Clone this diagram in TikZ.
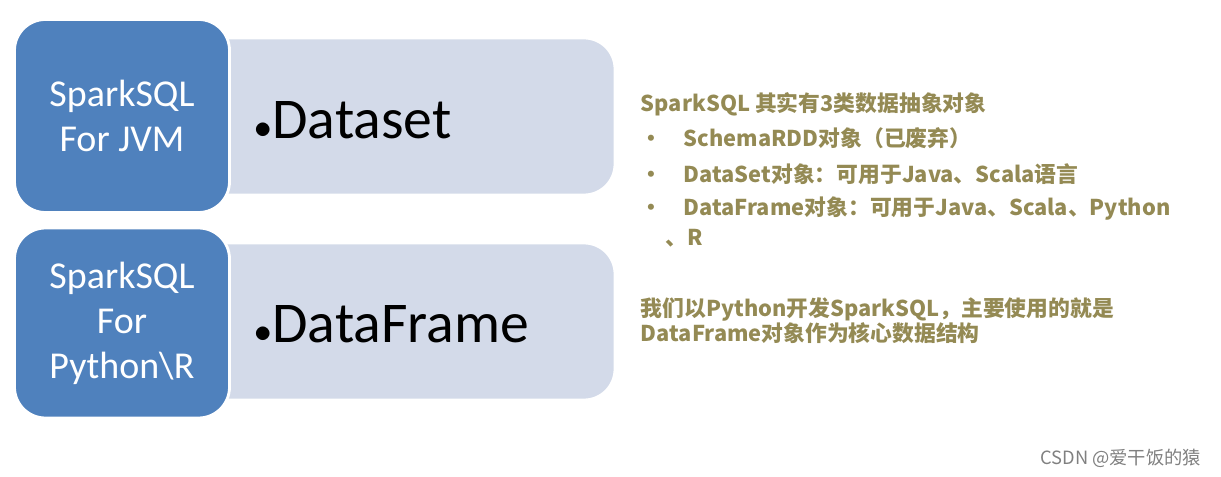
\documentclass[tikz,border=0pt]{standalone}
\usepackage{fontspec}
\setmainfont{Carlito}
\newfontfamily\cjk{Noto Sans CJK SC}
\usetikzlibrary{positioning}
\definecolor{boxblue}{HTML}{4F81BD}
\definecolor{boxlight}{HTML}{D3DAE9}
\definecolor{noteolive}{HTML}{948A54}
\tikzset{
  side/.style={draw=white,line width=2pt,fill=boxblue,rounded corners=22pt,text=white,align=center,font=\fontsize{27}{32}\selectfont},
  panel/.style={draw=white,line width=2pt,fill=boxlight,rounded corners=22pt},
  item/.style={font=\fontsize{41}{48}\selectfont,anchor=west},
  note/.style={text=noteolive,font=\cjk\bfseries\fontsize{15.5}{18}\selectfont,anchor=west}
}
\begin{document}
\begin{tikzpicture}[x=0.025cm,y=-0.025cm]
    \useasboundingbox (0,0) rectangle (1221,477);
    % upper row
    \draw[panel] (190,38) rectangle (615,195);
    \node[side,minimum width=215*0.025cm,minimum height=193*0.025cm] at (122,116) (jvm) {SparkSQL\\For JVM};
    \node[item] at (250,120) (ds) {$\bullet$Dataset};
    % lower row
    \draw[panel] (190,243) rectangle (615,400);
    \node[side,minimum width=215*0.025cm,minimum height=190*0.025cm] at (122,323) (py) {SparkSQL\\For\\Python\textbackslash R};
    \node[item] at (250,324) (df) {$\bullet$DataFrame};
    % notes
    \node[note] at (636,104) (n0) {SparkSQL 其实有3类数据抽象对象};
    \node[note] at (636,138) (n1) {•\hspace{15pt}SchemaRDD对象（已废弃）};
    \node[note] at (636,174) (n2) {•\hspace{15pt}DataSet对象：可用于Java、Scala语言};
    \node[note] at (636,209) (n3) {•\hspace{15pt}DataFrame对象：可用于Java、Scala、Python};
    \node[note] at (661,238) (n4) {、R};
    \node[note,align=left] at (636,321) (n5) {我们以Python开发SparkSQL，主要使用的就是\\DataFrame对象作为核心数据结构};
    \node[anchor=east,text=gray,font=\cjk\fontsize{13}{15}\selectfont] at (1206,458) (wm) {CSDN @爱干饭的猿};
\end{tikzpicture}
\end{document}
